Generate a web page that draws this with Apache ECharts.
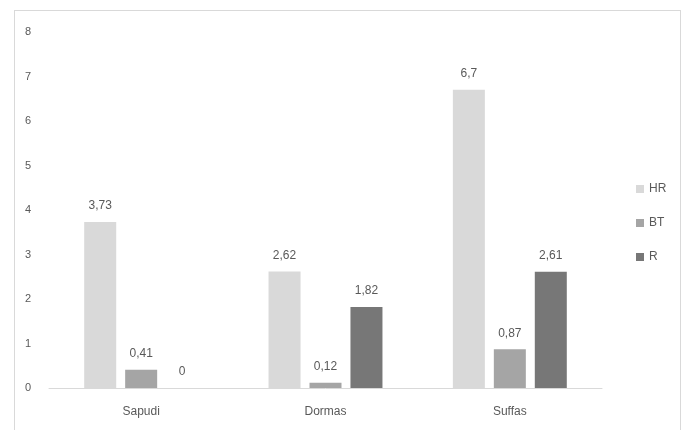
<!DOCTYPE html>
<html><head><meta charset="utf-8">
<script src="https://cdn.jsdelivr.net/npm/echarts@6/dist/echarts.min.js"></script>
<style>html,body{margin:0;padding:0;background:#fff}#c{width:686px;height:430px}
#frame{position:absolute;left:14px;top:10px;width:667px;height:430px;border:1px solid #d9d9d9;box-sizing:border-box;pointer-events:none}</style>
</head><body><div id="c"></div><div id="frame"></div>
<script>
const categories = ['Sapudi', 'Dormas', 'Suffas'];
const seriesNames = ['HR', 'BT', 'R'];
const hrValues = [3.73, 2.62, 6.7];
const btValues = [0.41, 0.12, 0.87];
const rValues = [0, 1.82, 2.61];
const colors = ['#d9d9d9', '#a5a5a5', '#777777'];
const fmt = p => String(p.value).replace('.', ',');
const mk = (name, data, color) => ({
  name, type: 'bar', data, barWidth: 32, barGap: '28%',
  itemStyle: { color },
  label: { show: true, position: 'top', distance: 10, formatter: fmt, color: '#595959', fontSize: 12, fontFamily: 'Liberation Sans' }
});
const chart = echarts.init(document.getElementById('c'));
chart.setOption({
  animation: false,
  textStyle: { fontFamily: 'Liberation Sans' },
  grid: { left: 49, right: 84, top: 32, bottom: 42, containLabel: false },
  legend: {
    orient: 'vertical', left: 631, top: 178, itemWidth: 8, itemHeight: 8, itemGap: 22,
    icon: 'rect', textStyle: { color: '#595959', fontSize: 12 },
    data: seriesNames
  },
  xAxis: {
    type: 'category', data: categories,
    axisLine: { lineStyle: { color: '#d9d9d9', width: 1 } },
    axisTick: { show: false },
    axisLabel: { color: '#595959', fontSize: 12, margin: 18 }
  },
  yAxis: {
    type: 'value', min: 0, max: 8, interval: 1,
    splitLine: { show: false },
    axisLine: { show: false }, axisTick: { show: false },
    axisLabel: { color: '#595959', fontSize: 11, margin: 21, align: 'center' }
  },
  series: [
    mk(seriesNames[0], hrValues, colors[0]),
    mk(seriesNames[1], btValues, colors[1]),
    mk(seriesNames[2], rValues, colors[2])
  ]
});
</script></body></html>
